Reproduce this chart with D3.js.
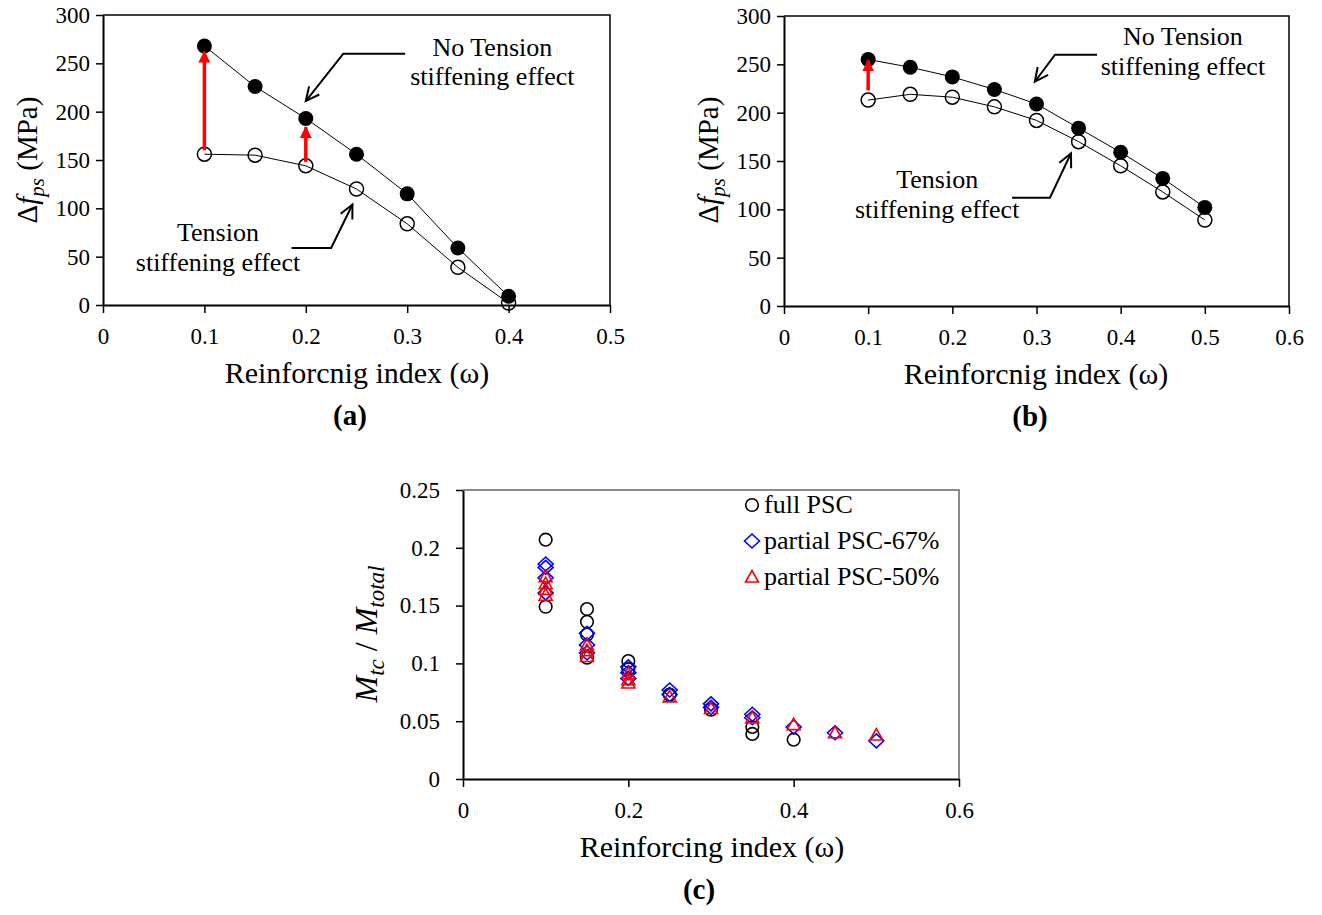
<!DOCTYPE html>
<html>
<head>
<meta charset="utf-8">
<script src="https://cdn.jsdelivr.net/npm/d3@7"></script>
<style>
  html, body { margin: 0; padding: 0; background: #fff; }
  svg { display: block; font-family: "Liberation Serif", "Times New Roman", serif; }
  svg text { font-family: "Liberation Serif", "Times New Roman", serif; }
</style>
</head>
<body>
<script>
"use strict";

// panel (a): stress increase vs reinforcing index
const omegaA = [0.1, 0.15, 0.2, 0.25, 0.3, 0.35, 0.4];
const noStiffA = [268, 226, 193, 156, 115, 59, 9];
const stiffA = [156, 155, 144, 120, 84, 39, 2];

// panel (b)
const omegaB = [0.1, 0.15, 0.2, 0.25, 0.3, 0.35, 0.4, 0.45, 0.5];
const noStiffB = [255, 247, 237, 224, 209, 184, 159, 132, 102];
const stiffB = [213, 219, 216, 206, 192, 170, 145, 118, 89];

// panel (c): [omega, Mtc/Mtotal]
const fullPSC = [
  [0.1, 0.207], [0.1, 0.149],
  [0.15, 0.147], [0.15, 0.136], [0.15, 0.125], [0.15, 0.105],
  [0.2, 0.102], [0.2, 0.095],
  [0.25, 0.073], [0.3, 0.060],
  [0.35, 0.045], [0.35, 0.039], [0.4, 0.034],
];
const partial67 = [
  [0.1, 0.186], [0.1, 0.183], [0.1, 0.174], [0.1, 0.161],
  [0.15, 0.126], [0.15, 0.116], [0.15, 0.109],
  [0.2, 0.097], [0.2, 0.092], [0.2, 0.087],
  [0.25, 0.077], [0.25, 0.073],
  [0.3, 0.065], [0.3, 0.062],
  [0.35, 0.056], [0.35, 0.053],
  [0.4, 0.045], [0.45, 0.040], [0.5, 0.033],
];
const partial50 = [
  [0.1, 0.175], [0.1, 0.169], [0.1, 0.164], [0.1, 0.159],
  [0.15, 0.116], [0.15, 0.111], [0.15, 0.106],
  [0.2, 0.091], [0.2, 0.086], [0.2, 0.083],
  [0.25, 0.071], [0.3, 0.061], [0.35, 0.053],
  [0.4, 0.047], [0.45, 0.040], [0.5, 0.038],
];

const xTicksA = [0, 0.1, 0.2, 0.3, 0.4, 0.5];
const xTicksB = [0, 0.1, 0.2, 0.3, 0.4, 0.5, 0.6];
const yTicksAB = [0, 50, 100, 150, 200, 250, 300];
const xTicksC = [0, 0.2, 0.4, 0.6];
const yTicksC = [0, 0.05, 0.1, 0.15, 0.2, 0.25];
const legendC = ["full PSC", "partial PSC-67%", "partial PSC-50%"];

// red arrows: [omega, from, to] in MPa
const redArrowsA = [[0.1, 160, 262], [0.2, 148, 184]];
const redArrowsB = [[0.1, 223, 254]];

const W = 1322, H = 915;
const svg = d3.select("body").append("svg").attr("width", W).attr("height", H);

const defs = svg.append("defs");
defs.append("marker")
  .attr("id", "redhead").attr("viewBox", "0 0 10 10")
  .attr("refX", 9).attr("refY", 5)
  .attr("markerUnits", "userSpaceOnUse")
  .attr("markerWidth", 12).attr("markerHeight", 13)
  .attr("orient", "auto")
  .append("path").attr("d", "M0,0 L10,5 L0,10 Z").attr("fill", "red");

function drawAxes(x, y, o) {
  const g = svg.append("g");
  const [x0, x1] = x.range();
  const [y0, y1] = y.range();

  const ax = g.append("g")
    .attr("transform", `translate(0,${y0})`)
    .call(d3.axisBottom(x).tickValues(o.xTicks).tickFormat(String)
      .tickSizeInner(8).tickSizeOuter(0).tickPadding(15));
  const ay = g.append("g")
    .attr("transform", `translate(${x0},0)`)
    .call(d3.axisLeft(y).tickValues(o.yTicks).tickFormat(String)
      .tickSizeInner(7).tickSizeOuter(0).tickPadding(o.yPad));

  [ax, ay].forEach((a) => {
    a.attr("font-family", null).attr("font-size", 23);
    a.select(".domain").attr("stroke", "#000").attr("stroke-width", 2);
    a.selectAll(".tick line").attr("stroke", "#000").attr("stroke-width", 1.5);
    a.selectAll(".tick text").attr("fill", "#000");
  });

  // frame top + right
  g.append("path")
    .attr("d", `M${x0},${y1} H${x1} V${y0}`)
    .attr("fill", "none").attr("stroke", o.frame || "#000").attr("stroke-width", 1.5);

  g.append("text")
    .attr("x", o.titleX).attr("y", y0 + 78)
    .attr("text-anchor", "middle").attr("font-size", 30)
    .text(o.xTitle);

  g.append("text")
    .attr("x", o.labelX).attr("y", y0 + 120)
    .attr("text-anchor", "middle").attr("font-size", 29).attr("font-weight", "bold")
    .text(o.label);
  return g;
}

function stressTitle(cx, cy) {
  const t = svg.append("text")
    .attr("transform", `translate(${cx},${cy}) rotate(-90)`)
    .attr("text-anchor", "middle").attr("font-size", 29);
  t.append("tspan").text("Δ");
  t.append("tspan").attr("font-style", "italic").text("f");
  t.append("tspan").attr("font-style", "italic").attr("font-size", 21).attr("dy", 7).text("ps");
  t.append("tspan").attr("dy", -7).text(" (MPa)");
}

function seriesLines(x, y, omega, noStiff, stiff) {
  const line = d3.line().x((d) => x(d[0])).y((d) => y(d[1]));
  const g = svg.append("g");
  [noStiff, stiff].forEach((vals) => {
    g.append("path")
      .attr("d", line(omega.map((w, i) => [w, vals[i]])))
      .attr("fill", "none").attr("stroke", "#000").attr("stroke-width", 1);
  });
  g.selectAll(".filled").data(omega).enter().append("circle")
    .attr("cx", (d) => x(d)).attr("cy", (d, i) => y(noStiff[i]))
    .attr("r", 7.5).attr("fill", "#000");
  g.selectAll(".open").data(omega).enter().append("circle")
    .attr("cx", (d) => x(d)).attr("cy", (d, i) => y(stiff[i]))
    .attr("r", 7).attr("fill", "none").attr("stroke", "#000").attr("stroke-width", 1.5);
}

function redArrows(x, y, arrows) {
  svg.append("g").selectAll("line").data(arrows).enter().append("line")
    .attr("x1", (d) => x(d[0])).attr("x2", (d) => x(d[0]))
    .attr("y1", (d) => y(d[1])).attr("y2", (d) => y(d[2]))
    .attr("stroke", "red").attr("stroke-width", 3.5)
    .attr("marker-end", "url(#redhead)");
}

// bent pointer arrow with open V head, points in data units
function pointer(x, y, pts) {
  const p = pts.map((d) => [x(d[0]), y(d[1])]);
  const g = svg.append("g").attr("fill", "none").attr("stroke", "#000").attr("stroke-width", 2);
  g.append("path").attr("d", d3.line()(p));
  const [a, b] = p.slice(-2);
  const ang = Math.atan2(b[1] - a[1], b[0] - a[0]);
  const len = 15, spread = 0.45;
  const h1 = [b[0] - len * Math.cos(ang - spread), b[1] - len * Math.sin(ang - spread)];
  const h2 = [b[0] - len * Math.cos(ang + spread), b[1] - len * Math.sin(ang + spread)];
  g.append("path").attr("d", d3.line()([h1, b, h2]));
}

function note(x, y, wx, v1, v2, lines) {
  const g = svg.append("g").attr("font-size", 26).attr("text-anchor", "middle");
  g.append("text").attr("x", x(wx)).attr("y", y(v1)).text(lines[0]);
  g.append("text").attr("x", x(wx)).attr("y", y(v2)).text(lines[1]);
}

// ---- panel (a)
const xA = d3.scaleLinear().domain([0, 0.5]).range([103, 610]);
const yA = d3.scaleLinear().domain([0, 300]).range([305, 15]);
drawAxes(xA, yA, { xTicks: xTicksA, yTicks: yTicksAB, yPad: 6,
  xTitle: "Reinforcnig index (ω)", titleX: 357, label: "(a)", labelX: 350 });
stressTitle(37, 160);
seriesLines(xA, yA, omegaA, noStiffA, stiffA);
redArrows(xA, yA, redArrowsA);
pointer(xA, yA, [[0.298, 260], [0.237, 260], [0.2, 211]]);
pointer(xA, yA, [[0.186, 59], [0.225, 59], [0.246, 104]]);
note(xA, yA, 0.384, 258, 228, ["No Tension", "stiffening effect"]);
note(xA, yA, 0.1134, 66, 35, ["Tension", "stiffening effect"]);

// ---- panel (b)
const xB = d3.scaleLinear().domain([0, 0.6]).range([784, 1289]);
const yB = d3.scaleLinear().domain([0, 300]).range([306, 16]);
drawAxes(xB, yB, { xTicks: xTicksB, yTicks: yTicksAB, yPad: 6,
  xTitle: "Reinforcnig index (ω)", titleX: 1036, label: "(b)", labelX: 1030 });
stressTitle(718, 160);
seriesLines(xB, yB, omegaB, noStiffB, stiffB);
redArrows(xB, yB, redArrowsB);
pointer(xB, yB, [[0.372, 260], [0.322, 260], [0.298, 232]]);
pointer(xB, yB, [[0.271, 112], [0.316, 112], [0.341, 158]]);
note(xB, yB, 0.474, 270, 239, ["No Tension", "stiffening effect"]);
note(xB, yB, 0.182, 122, 91, ["Tension", "stiffening effect"]);

// ---- panel (c)
const xC = d3.scaleLinear().domain([0, 0.6]).range([463, 959]);
const yC = d3.scaleLinear().domain([0, 0.25]).range([779, 490]);
drawAxes(xC, yC, { xTicks: xTicksC, yTicks: yTicksC, yPad: 16, frame: "#666",
  xTitle: "Reinforcing index (ω)", titleX: 712, label: "(c)", labelX: 699 });

const mt = svg.append("text")
  .attr("transform", "translate(377,634) rotate(-90)")
  .attr("text-anchor", "middle").attr("font-size", 32);
mt.append("tspan").attr("font-style", "italic").text("M");
mt.append("tspan").attr("font-style", "italic").attr("font-size", 23).attr("dy", 7).text("tc");
mt.append("tspan").attr("dy", -7).text(" / ");
mt.append("tspan").attr("font-style", "italic").text("M");
mt.append("tspan").attr("font-style", "italic").attr("font-size", 23).attr("dy", 7).text("total");

const diamond = "M0,-7 L7.5,0 L0,7 L-7.5,0 Z";
const triangle = "M0,-6.5 L6.5,5 L-6.5,5 Z";
const markC = [
  { data: fullPSC, color: "#000", draw: (s) => s.append("circle").attr("r", 6.3) },
  { data: partial67, color: "#0000ff", draw: (s) => s.append("path").attr("d", diamond) },
  { data: partial50, color: "#ff0000", draw: (s) => s.append("path").attr("d", triangle) },
];
markC.forEach((m) => {
  const pts = svg.append("g").selectAll("g").data(m.data).enter().append("g")
    .attr("transform", (d) => `translate(${xC(d[0])},${yC(d[1])})`);
  m.draw(pts).attr("fill", "none").attr("stroke", m.color).attr("stroke-width", 1.6);
});

const leg = svg.append("g").attr("font-size", 26);
markC.forEach((m, i) => {
  const row = leg.append("g").attr("transform", `translate(752,${505 + i * 36})`);
  m.draw(row).attr("fill", "none").attr("stroke", m.color).attr("stroke-width", 1.6);
  row.append("text").attr("x", 12).attr("y", 8).text(legendC[i]);
});
</script>
</body>
</html>
